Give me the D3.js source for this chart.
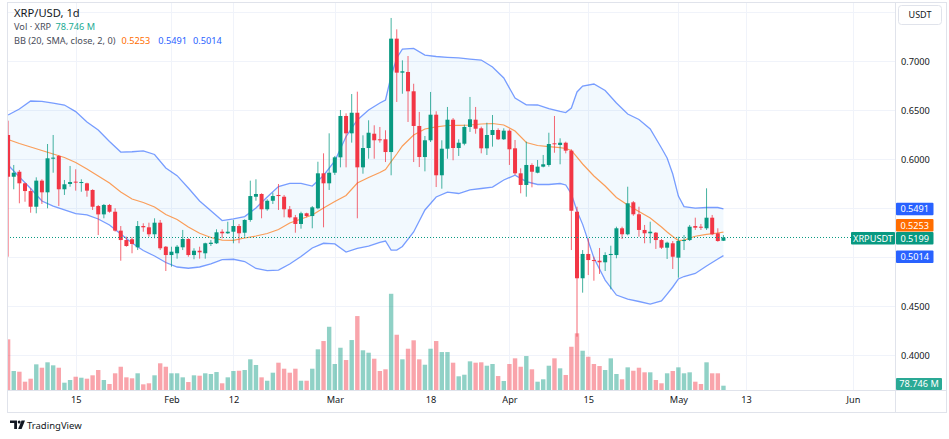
<!DOCTYPE html>
<html><head><meta charset="utf-8">
<script src="https://cdn.jsdelivr.net/npm/d3@7"></script>
<style>html,body{margin:0;padding:0;background:#fff;}svg{display:block;}</style>
</head><body>
<svg id="c" width="949" height="439"></svg>
<script>
// ---------- DATA ----------
const startDate = "2024-01-03"; // first daily candle
const opens = [0.6245,0.5819,0.5870,0.5752,0.5673,0.5513,0.5779,0.5660,0.6003,0.6031,0.5691,0.5745,0.5769,0.5755,0.5752,0.5684,0.5520,0.5435,0.5531,0.5462,0.5269,0.5173,0.5181,0.5099,0.5316,0.5303,0.5232,0.5350,0.5105,0.5020,0.5038,0.5099,0.5184,0.5020,0.5064,0.5038,0.5133,0.5140,0.5258,0.5242,0.5258,0.5316,0.5248,0.5378,0.5615,0.5643,0.5487,0.5574,0.5633,0.5615,0.5487,0.5405,0.5337,0.5446,0.5418,0.5497,0.5854,0.5752,0.5860,0.6017,0.6439,0.6262,0.6472,0.5915,0.6112,0.6258,0.6201,0.6201,0.6071,0.7228,0.6881,0.6888,0.6691,0.6337,0.6020,0.6191,0.6452,0.5834,0.6105,0.6401,0.6112,0.6156,0.6327,0.6401,0.6313,0.6109,0.6245,0.6296,0.6201,0.6289,0.6109,0.5854,0.5735,0.5939,0.5860,0.5922,0.5939,0.6160,0.6143,0.6166,0.6085,0.5462,0.4783,0.5031,0.4969,0.4962,0.4946,0.5020,0.5020,0.5293,0.5232,0.5558,0.5436,0.5276,0.5242,0.5248,0.5173,0.5095,0.5140,0.4993,0.5163,0.5173,0.5316,0.5309,0.5293,0.5401,0.5242,0.5166];
const highs = [0.6391,0.5939,0.5888,0.5758,0.5701,0.5813,0.5793,0.6153,0.6245,0.6041,0.5786,0.5929,0.5895,0.5793,0.5758,0.5691,0.5531,0.5541,0.5541,0.5497,0.5316,0.5207,0.5201,0.5367,0.5344,0.5350,0.5395,0.5378,0.5112,0.5105,0.5122,0.5276,0.5191,0.5089,0.5105,0.5146,0.5173,0.5283,0.5283,0.5360,0.5378,0.5337,0.5385,0.5779,0.5793,0.5650,0.5589,0.5656,0.5745,0.5633,0.5520,0.5429,0.5462,0.5452,0.5520,0.5972,0.6058,0.6262,0.6031,0.6500,0.6466,0.6663,0.6687,0.6242,0.6395,0.6344,0.6327,0.6293,0.7439,0.7323,0.7007,0.7051,0.6768,0.6480,0.6235,0.6684,0.6487,0.6191,0.6531,0.6418,0.6201,0.6350,0.6633,0.6531,0.6330,0.6370,0.6449,0.6313,0.6313,0.6303,0.6194,0.5905,0.6177,0.5956,0.5990,0.6041,0.6268,0.6439,0.6211,0.6177,0.6099,0.5513,0.5071,0.5191,0.5003,0.5092,0.5048,0.5115,0.5309,0.5309,0.5717,0.5571,0.5513,0.5327,0.5360,0.5255,0.5184,0.5156,0.5163,0.5207,0.5224,0.5327,0.5401,0.5337,0.5701,0.5429,0.5293,0.5224];
const lows = [0.5003,0.5691,0.5548,0.5564,0.5452,0.5446,0.5541,0.5497,0.5860,0.5520,0.5633,0.5717,0.5677,0.5666,0.5615,0.5480,0.5224,0.5395,0.5452,0.5259,0.4962,0.5105,0.5038,0.5071,0.5258,0.5207,0.5191,0.5071,0.4857,0.4901,0.4983,0.5071,0.5003,0.4977,0.4983,0.4983,0.5112,0.5133,0.5191,0.5235,0.5140,0.5140,0.5207,0.5360,0.5574,0.5395,0.5472,0.5541,0.5480,0.5405,0.5395,0.5248,0.5289,0.5405,0.5293,0.5487,0.5303,0.5684,0.5837,0.5915,0.5915,0.6167,0.5395,0.5850,0.6003,0.6003,0.6167,0.5969,0.5834,0.6582,0.6666,0.6378,0.5969,0.5918,0.5874,0.6173,0.5714,0.5697,0.6003,0.5987,0.6031,0.6140,0.6276,0.6258,0.6058,0.6041,0.6126,0.6194,0.6194,0.5939,0.5837,0.5650,0.5615,0.5711,0.5854,0.5915,0.5922,0.6064,0.5946,0.6058,0.5071,0.4187,0.4636,0.4816,0.4758,0.4827,0.4857,0.4670,0.4987,0.5184,0.5222,0.5421,0.5207,0.5140,0.5140,0.5082,0.5082,0.4980,0.4878,0.4789,0.5071,0.5163,0.5276,0.5276,0.5276,0.5222,0.5156,0.5163];
const closes = [0.5819,0.5860,0.5752,0.5673,0.5513,0.5779,0.5660,0.6007,0.6014,0.5691,0.5742,0.5765,0.5762,0.5765,0.5677,0.5513,0.5435,0.5531,0.5462,0.5269,0.5173,0.5112,0.5133,0.5316,0.5303,0.5232,0.5350,0.5089,0.5020,0.5054,0.5105,0.5184,0.5020,0.5064,0.5048,0.5140,0.5146,0.5252,0.5242,0.5258,0.5316,0.5242,0.5378,0.5622,0.5643,0.5487,0.5574,0.5622,0.5622,0.5487,0.5405,0.5337,0.5446,0.5418,0.5507,0.5854,0.5752,0.5860,0.6017,0.6439,0.6262,0.6472,0.5915,0.6112,0.6268,0.6191,0.6191,0.6071,0.7228,0.6881,0.6895,0.6691,0.6337,0.6020,0.6191,0.6452,0.5834,0.6105,0.6401,0.6112,0.6166,0.6327,0.6405,0.6309,0.6109,0.6245,0.6296,0.6201,0.6289,0.6099,0.5854,0.5735,0.5939,0.5870,0.5922,0.5946,0.6153,0.6150,0.6166,0.6085,0.5472,0.4783,0.5031,0.4969,0.4959,0.4946,0.5020,0.5031,0.5293,0.5232,0.5548,0.5436,0.5276,0.5242,0.5258,0.5173,0.5095,0.5146,0.5003,0.5163,0.5173,0.5309,0.5299,0.5299,0.5401,0.5232,0.5163,0.5199];
// volume in millions of XRP
const volumes = [928,348,335,152,207,470,408,507,452,408,134,183,243,225,207,269,366,183,110,306,426,232,214,306,104,123,269,489,426,306,306,232,146,269,262,306,293,329,123,232,348,353,366,562,458,232,170,317,500,390,317,390,170,170,390,745,897,1158,476,774,549,915,1354,727,683,573,348,379,1762,1012,562,756,910,562,463,756,897,695,695,500,251,280,525,500,507,445,476,256,165,476,580,426,622,379,152,196,445,580,397,275,792,1038,719,609,476,439,366,580,293,196,415,353,408,324,324,183,123,306,348,415,306,324,152,110,507,306,306,78.746];
// Bollinger Bands (20, SMA, close, 2) at these candle indices
const bbIdx   = [0,2,4,6,8,10,12,14,16,18,20,22,24,26,28,30,32,34,36,38,40,42,44,46,48,50,52,54,56,58,60,62,64,66,67,68,69,70,72,74,76,78,80,82,84,86,88,90,92,94,96,98,99,100,101,102,104,106,108,110,112,114,116,117,118,119,120,122,124,126,127];
const bbUpper = [0.6449,0.6510,0.6592,0.6587,0.6571,0.6551,0.6484,0.6378,0.6296,0.6179,0.6071,0.6074,0.6082,0.6046,0.5908,0.5830,0.5704,0.5571,0.5472,0.5372,0.5388,0.5413,0.5500,0.5612,0.5719,0.5752,0.5752,0.5724,0.5832,0.5980,0.6230,0.6398,0.6500,0.6571,0.6602,0.6847,0.7031,0.7122,0.7128,0.7061,0.7046,0.7038,0.7031,0.7020,0.7010,0.6939,0.6827,0.6622,0.6553,0.6551,0.6515,0.6485,0.6474,0.6520,0.6684,0.6745,0.6765,0.6699,0.6571,0.6459,0.6403,0.6306,0.6112,0.6010,0.5847,0.5622,0.5515,0.5498,0.5505,0.5505,0.5491];
const bbBasis = [0.6199,0.6158,0.6122,0.6087,0.6051,0.6015,0.5964,0.5898,0.5827,0.5755,0.5663,0.5592,0.5556,0.5510,0.5434,0.5383,0.5306,0.5242,0.5199,0.5173,0.5170,0.5194,0.5214,0.5240,0.5281,0.5347,0.5388,0.5429,0.5500,0.5566,0.5628,0.5755,0.5811,0.5862,0.5893,0.5974,0.6051,0.6133,0.6245,0.6306,0.6327,0.6342,0.6344,0.6347,0.6357,0.6362,0.6347,0.6286,0.6168,0.6138,0.6126,0.6117,0.6107,0.6087,0.6020,0.5949,0.5827,0.5724,0.5607,0.5531,0.5464,0.5398,0.5306,0.5255,0.5209,0.5168,0.5173,0.5212,0.5230,0.5245,0.5253];
const bbLower = [0.5939,0.5816,0.5699,0.5571,0.5520,0.5480,0.5442,0.5429,0.5388,0.5327,0.5235,0.5143,0.5066,0.5010,0.4944,0.4898,0.4885,0.4898,0.4929,0.4974,0.4977,0.4954,0.4883,0.4860,0.4867,0.4929,0.5005,0.5092,0.5140,0.5133,0.5051,0.5087,0.5112,0.5148,0.5163,0.5071,0.5071,0.5107,0.5255,0.5480,0.5612,0.5661,0.5648,0.5684,0.5699,0.5714,0.5786,0.5835,0.5770,0.5740,0.5740,0.5750,0.5735,0.5643,0.5469,0.5333,0.4990,0.4765,0.4612,0.4571,0.4546,0.4520,0.4551,0.4622,0.4694,0.4776,0.4801,0.4832,0.4908,0.4980,0.5014];
const priceGrid   = [0.40,0.45,0.50,0.55,0.60,0.65,0.70,0.75];
const priceLabels = [0.40,0.45,0.60,0.65,0.70];
const timeTickDates  = ["2024-01-15","2024-02-01","2024-02-12","2024-03-01","2024-03-18","2024-04-01","2024-04-15","2024-05-01","2024-05-13","2024-06-01"];
const timeTickLabels = ["15","Feb","12","Mar","18","Apr","15","May","13","Jun"];
const lastPrice = 0.5199, lastVolumeText = "78.746 M";

// ---------- SETUP ----------
const FONT = "'Noto Sans', 'Open Sans', sans-serif";
const UP = "#089981", DOWN = "#F23645", BLUE = "#2962FF", ORANGE = "#FF6D00", TXT = "#131722";
const P = {l:7, r:895.5, t:3, b:390.5};
const svg = d3.select("#c");
const parse = d3.utcParse("%Y-%m-%d");
const t0 = parse(startDate);
const dates = opens.map((_, i) => d3.utcDay.offset(t0, i));
const x = d3.scaleUtc().domain([parse("2024-01-15"), parse("2024-06-01")]).range([75.7, 853]);
const y = d3.scaleLinear().domain([0.40, 0.70]).range([355, 61]);
const yv = d3.scaleLinear().domain([0, 2000]).range([390, 280.8]);
const cx = i => x(dates[i]);

svg.append("rect").attr("width", 949).attr("height", 439).attr("fill", "#fff");

svg.append("defs").append("clipPath").attr("id", "plotclip")
  .append("rect").attr("x", P.l).attr("y", P.t).attr("width", P.r - P.l).attr("height", P.b - P.t);

// grid
const grid = svg.append("g").attr("clip-path", "url(#plotclip)");
grid.selectAll(".hg").data(priceGrid).join("line")
  .attr("x1", P.l).attr("x2", P.r)
  .attr("y1", d => Math.round(y(d)) + 0.5).attr("y2", d => Math.round(y(d)) + 0.5)
  .attr("stroke", "#f0f3fa").attr("stroke-width", 1);
grid.selectAll(".vg").data(timeTickDates).join("line")
  .attr("x1", d => Math.round(x(parse(d))) + 0.5).attr("x2", d => Math.round(x(parse(d))) + 0.5)
  .attr("y1", P.t).attr("y2", P.b)
  .attr("stroke", "#f0f3fa").attr("stroke-width", 1);

const plot = svg.append("g").attr("clip-path", "url(#plotclip)");

// BB background
const bbPts = bbIdx.map((i, k) => ({i, u: bbUpper[k], m: bbBasis[k], l: bbLower[k]}));
plot.append("path").datum(bbPts)
  .attr("d", d3.area().x(d => cx(d.i)).y0(d => y(d.l)).y1(d => y(d.u)))
  .attr("fill", "rgba(33,150,243,0.06)");

// volume
const vbw = 4.4;
plot.selectAll(".vol").data(volumes).join("rect")
  .attr("x", (d, i) => cx(i) - vbw / 2)
  .attr("y", d => yv(d))
  .attr("width", vbw)
  .attr("height", d => 390 - yv(d))
  .attr("fill", (d, i) => closes[i] >= opens[i] ? "rgba(8,153,129,0.45)" : "rgba(242,54,69,0.45)");

// BB lines
const ln = key => d3.line().x(d => cx(d.i)).y(d => y(d[key]));
plot.append("path").datum(bbPts).attr("d", ln("u")).attr("fill", "none").attr("stroke", BLUE).attr("stroke-opacity", 0.62).attr("stroke-width", 1.3);
plot.append("path").datum(bbPts).attr("d", ln("l")).attr("fill", "none").attr("stroke", BLUE).attr("stroke-opacity", 0.62).attr("stroke-width", 1.3);
plot.append("path").datum(bbPts).attr("d", ln("m")).attr("fill", "none").attr("stroke", ORANGE).attr("stroke-opacity", 0.65).attr("stroke-width", 1.2);

// candles
const bw = 4;
const cg = plot.append("g");
opens.forEach((o, i) => {
  const c = closes[i], up = c >= o, col = up ? UP : DOWN;
  const xc = cx(i);
  cg.append("line").attr("x1", xc).attr("x2", xc)
    .attr("y1", y(highs[i])).attr("y2", y(lows[i]))
    .attr("stroke", col).attr("stroke-width", 1).attr("stroke-opacity", 0.75);
  const top = y(Math.max(o, c)), bot = y(Math.min(o, c));
  cg.append("rect").attr("x", xc - bw / 2).attr("y", top)
    .attr("width", bw).attr("height", Math.max(1, bot - top)).attr("fill", col);
});

// last price dotted line
plot.append("line").attr("x1", P.l).attr("x2", P.r)
  .attr("y1", y(lastPrice)).attr("y2", y(lastPrice))
  .attr("stroke", UP).attr("stroke-width", 1).attr("stroke-dasharray", "1,2");

// frame
svg.append("rect").attr("x", 7.5).attr("y", 2.5).attr("width", 939).attr("height", 410)
  .attr("fill", "none").attr("stroke", "#e0e3eb");
svg.append("line").attr("x1", P.r).attr("x2", P.r).attr("y1", 2.5).attr("y2", 412.5).attr("stroke", "#e0e3eb");
svg.append("line").attr("x1", 7.5).attr("x2", 946.5).attr("y1", P.b).attr("y2", P.b).attr("stroke", "#e0e3eb");

// price axis
const pa = svg.append("g").attr("transform", "translate(901,0)")
  .call(d3.axisRight(y).tickValues(priceLabels).tickFormat(d3.format(".4f")).tickSize(0).tickPadding(0));
pa.select(".domain").remove();
pa.selectAll("text").attr("fill", TXT).attr("font-family", FONT).attr("font-size", 9.2).attr("dy", "0.34em").attr("x", 0);

// time axis
const ta = svg.append("g").attr("transform", "translate(0,396)")
  .call(d3.axisBottom(x).tickValues(timeTickDates.map(parse))
    .tickFormat((d, k) => timeTickLabels[k]).tickSize(0).tickPadding(0));
ta.select(".domain").remove();
ta.selectAll("text").attr("fill", TXT).attr("font-family", FONT).attr("font-size", 9.2).attr("dy", "0.71em");

// USDT box
svg.append("rect").attr("x", 898.5).attr("y", 5.5).attr("width", 43).attr("height", 19).attr("rx", 3)
  .attr("fill", "#fff").attr("stroke", "#e0e3eb");
svg.append("text").attr("x", 920).attr("y", 15).attr("dy", "0.35em").attr("text-anchor", "middle")
  .attr("font-family", FONT).attr("font-size", 9).attr("fill", TXT).text("USDT");

// badges
function badge(xp, cy, w, h, fill, label) {
  svg.append("rect").attr("x", xp).attr("y", cy - h / 2).attr("width", w).attr("height", h).attr("rx", 1).attr("fill", fill);
  svg.append("text").attr("x", xp + w / 2).attr("y", cy).attr("dy", "0.35em").attr("text-anchor", "middle")
    .attr("font-family", FONT).attr("font-size", 9.2).attr("fill", "#fff").text(label);
}
const bh = 12.5;
const uLast = bbUpper[bbUpper.length - 1], mLast = bbBasis[bbBasis.length - 1], lLast = bbLower[bbLower.length - 1];
const priceY = y(lastPrice) + 0.8;
const upperY = y(uLast);
const basisY = Math.min(y(mLast), priceY - bh - 0.5);
const lowerY = Math.max(y(lLast) + 1, priceY + bh + 0.5);
badge(896, upperY, 37.5, bh, BLUE, d3.format(".4f")(uLast));
badge(896, basisY, 37.5, bh, ORANGE, d3.format(".4f")(mLast));
badge(896, priceY, 37.5, bh, UP, d3.format(".4f")(lastPrice));
badge(851, priceY, 44, bh, UP, "XRPUSDT");
badge(896, lowerY, 37.5, bh, BLUE, d3.format(".4f")(lLast));
badge(896, 384, 46, 12, "#2aa995", lastVolumeText);

// legend
const lg = svg.append("g").attr("font-family", FONT);
lg.append("text").attr("x", 14).attr("y", 17).attr("font-size", 11.2).attr("fill", TXT).text("XRP/USD, 1d");
const l2 = lg.append("text").attr("x", 14).attr("y", 29.5).attr("font-size", 9.2).attr("fill", "#4a4e5a");
l2.append("tspan").text("Vol · XRP ");
l2.append("tspan").attr("dx", 2).attr("fill", "#22ab94").text(lastVolumeText);
const l3 = lg.append("text").attr("x", 14).attr("y", 44).attr("font-size", 9.2).attr("fill", "#4a4e5a");
l3.append("tspan").text("BB (20, SMA, close, 2, 0)");
l3.append("tspan").attr("dx", 6).attr("fill", ORANGE).text(d3.format(".4f")(mLast));
l3.append("tspan").attr("dx", 8).attr("fill", BLUE).text(d3.format(".4f")(uLast));
l3.append("tspan").attr("dx", 6).attr("fill", BLUE).text(d3.format(".4f")(lLast));

// TradingView logo
const logo = svg.append("g").attr("fill", TXT);
logo.append("path").attr("d", "M10,420.5 H17 V429 H14.2 V423 H10 Z");
logo.append("circle").attr("cx", 19.2).attr("cy", 422).attr("r", 1.5);
logo.append("path").attr("d", "M21.5,420.5 H25 L21.6,429 H18.2 Z");
svg.append("text").attr("x", 27).attr("y", 428.5).attr("font-family", FONT).attr("font-size", 9.5)
  .attr("fill", TXT).text("TradingView");
</script>
</body></html>
